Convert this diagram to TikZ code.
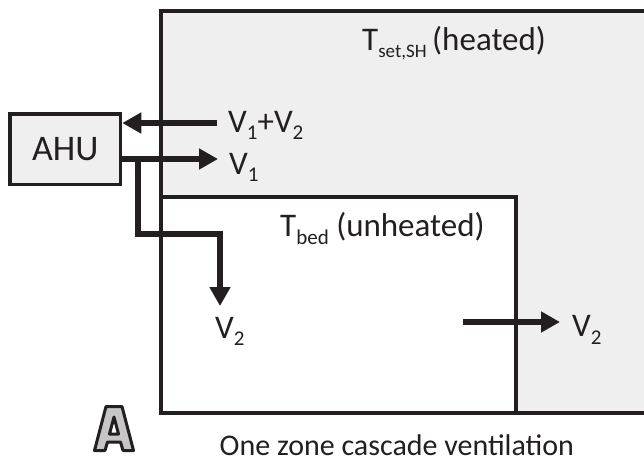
\documentclass[tikz,border=0pt]{standalone}
\usepackage{fontspec}
\setmainfont{Carlito}
\usetikzlibrary{arrows.meta}
\definecolor{ink}{HTML}{231F20}
\definecolor{roomgray}{HTML}{EFEFEF}
\definecolor{letgray}{HTML}{C6C6C6}
\newcommand\sbs[2][21]{\raisebox{-7.5pt}{\fontsize{#1}{#1}\selectfont #2}}
\tikzset{
  wall/.style={draw=ink, line width=4pt},
  ahubox/.style={draw=ink, line width=3.5pt, fill=roomgray, minimum width=110.5pt, minimum height=70.5pt, inner sep=0pt, font=\fontsize{36}{36}\selectfont, text=ink},
  flow/.style={draw=ink, line width=6pt, -{Triangle[length=19pt,width=20pt]}},
  lbl/.style={anchor=base west, inner sep=0pt, font=\fontsize{33}{33}\selectfont, text=ink},
  captiontext/.style={anchor=base west, inner sep=0pt, font=\fontsize{30}{30}\selectfont, text=ink},
}
\begin{document}
\begin{tikzpicture}[x=1pt, y=-1pt]
\useasboundingbox (0,0) rectangle (644,459);
\clip (0,0) rectangle (644,459);
% rooms
\path[wall, fill=roomgray] (161,11) rectangle (720,413);
\path[wall, fill=white] (161,197) rectangle (515.7,413);
% AHU
\node[ahubox] (ahu) at (65.25,149) {AHU};
% labels
\node[lbl] (lret) at (228,132) {V\sbs{1}+V\sbs{2}};
\node[lbl] (lsup) at (229,174) {V\sbs{1}};
\node[lbl] (lbed) at (215,338) {V\sbs{2}};
\node[lbl] (lout) at (572,336.5) {V\sbs{2}};
\node[lbl] (theated) at (362,50) {T\sbs[19]{set,SH}\,(heated)};
\node[lbl] (tbed) at (280,236.5) {T\sbs{bed} (unheated)};
\node[captiontext] (caption) at (219.5,455) {One zone cascade ventilation};
% flow coordinates
\coordinate (retstart) at (217,123);
\coordinate (supend) at (218,159);
\coordinate (split) at (138,159);
\coordinate (bendA) at (138,234);
\coordinate (bendB) at (220,234);
\coordinate (bedend) at (220,306);
\coordinate (outstart) at (463,322);
\coordinate (outend) at (560,322);
% flows
\draw[flow] (retstart) -- (ahu.east |- retstart);
\draw[flow] (ahu.east |- supend) -- (supend);
\draw[flow] (split) -- (bendA) -- (bendB) -- (bedend);
\draw[flow] (outstart) -- (outend);
% panel letter
\path[draw=ink, fill=letgray, line width=3pt, line join=round, even odd rule]
  (94.5,450.5) -- (106,406.5) -- (122,406.5) -- (133.5,450.5) -- (123,450.5) -- (120.5,442) -- (107.5,442) -- (105,450.5) -- cycle
  (109.5,434) -- (114,417) -- (118.5,434) -- cycle;
\end{tikzpicture}
\end{document}
